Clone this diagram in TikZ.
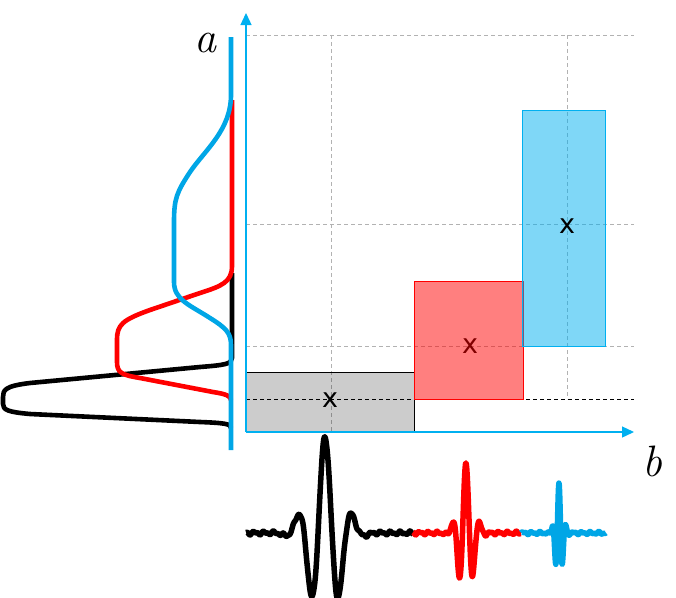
\documentclass[tikz,border=0pt]{standalone}
\usepackage{fontspec}
\newfontfamily\crossfont{DejaVu Sans}
\usetikzlibrary{arrows.meta}

\definecolor{sky}{HTML}{00B0F0}
\definecolor{skyline}{HTML}{00A6E6}

\begin{document}
\begin{tikzpicture}[x=1pt,y=-1pt,
    guide/.style={draw=black!30,line width=0.8pt,dash pattern=on 4pt off 3pt},
    spec/.style={line width=4.6pt,line join=round},
    wave/.style={line width=5.5pt,line join=round},
    axis/.style={draw=sky,line width=1.3pt,-{Triangle[length=12pt,width=11pt]}},
    cross/.style={inner sep=0pt,font=\crossfont\fontsize{27}{27}\selectfont},
    varname/.style={inner sep=0pt,font=\fontsize{44}{44}\selectfont\itshape}]
  \useasboundingbox (0,0) rectangle (676,597);

  % axes
  \coordinate (O) at (246,432);
  \coordinate (ytip) at (246,13);
  \coordinate (xtip) at (634,432);

  % guide lines
  \draw[guide] (246,35) -- (634,35);
  \draw[guide] (246,224) -- (634,224);
  \draw[guide] (246,346) -- (634,346);
  \draw[guide] (331,35) -- (331,432);
  \draw[guide] (567,35) -- (567,399);

  % boxes
  \fill[black,fill opacity=0.2] (246,372) rectangle (414,432);
  \draw[black,line width=0.8pt] (246,372) rectangle (414,432);
  \draw[dash pattern=on 4pt off 3pt,line width=0.8pt] (246,399) -- (634,399);
  \node[cross] (xlow) at (330,400) {x};
  \node[cross] (xmid) at (470,346) {x};
  \draw[red,line width=0.8pt,fill=red,fill opacity=0.5] (414,281) rectangle (523,399);
  \draw[sky,line width=0.8pt,fill=sky,fill opacity=0.5] (522,110) rectangle (605,346);
  \node[cross] (xhigh) at (567,226) {x};

  \draw[axis] (O) -- (ytip);
  \draw[axis] (O) -- (xtip);
  \node[varname] (alab) at (205,43) {a};
  \node[varname] (blab) at (652,461) {b};

  % spectra along a
  \draw[spec] (232,273) -- (232,358) .. controls (232,364) and (225,365) .. (200,367)
    -- (30,383) .. controls (5,386) and (3,390) .. (3,397) -- (3,404)
    .. controls (3,410) and (8,412) .. (30,414) -- (200,422)
    .. controls (226,423) and (231,424) .. (231,428);
  \draw[spec,red] (232,100) -- (232,266) .. controls (232,282) and (222,286) .. (200,293)
    -- (150,310) .. controls (122,320) and (117,325) .. (117,340) -- (117,362)
    .. controls (117,373) and (122,375) .. (140,378) -- (213,392)
    .. controls (226,394) and (231,396) .. (231,400);
  \draw[spec,skyline] (231,37) -- (231,95) .. controls (231,130) and (205,150) .. (190,172)
    .. controls (177,192) and (174,198) .. (174,222) -- (174,282)
    .. controls (174,300) and (190,305) .. (210,318)
    .. controls (226,328) and (231,333) .. (231,345) -- (231,450);

  % wavelets along b
  \draw[wave] plot[domain=246:413,samples=300]
    (\x,{533-96*cos(180*(\x-325)/14)*exp(0-((\x-325)*(\x-325))/450)
      +1.3*sin(37*(\x-325))+0.8*sin(71*(\x-325))});
  \draw[wave,red] plot[domain=413:521,samples=250]
    (\x,{533-70*cos(180*(\x-466)/7)*exp(0-((\x-466)*(\x-466))/98)
      +1.2*sin(41*(\x-466))+0.7*sin(77*(\x-466))});
  \draw[wave,skyline] plot[domain=521:606,samples=250]
    (\x,{533-50*cos(180*(\x-559)/3.5)*exp(0-((\x-559)*(\x-559))/24)
      +1.0*sin(43*(\x-559))+0.6*sin(79*(\x-559))});
\end{tikzpicture}
\end{document}
